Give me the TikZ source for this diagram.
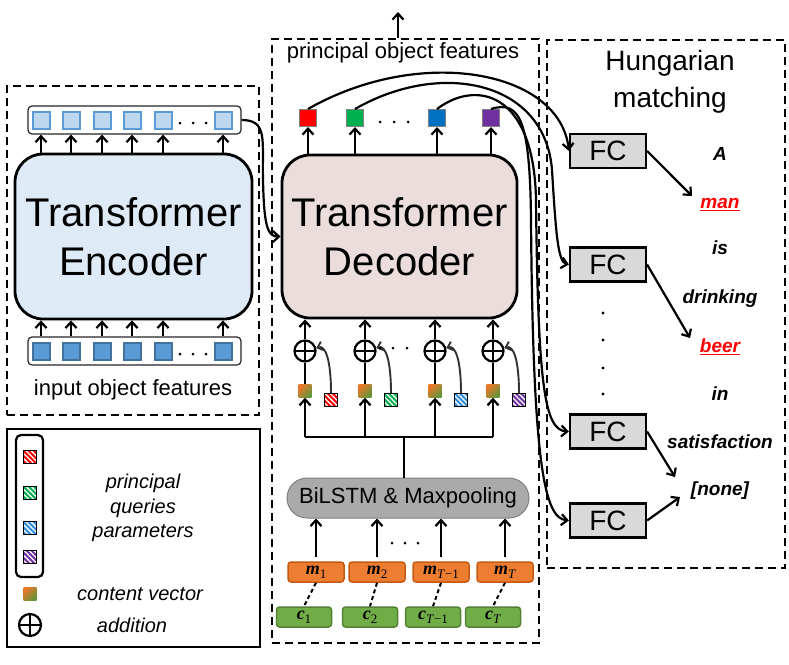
\documentclass[tikz,border=0pt]{standalone}
\usepackage{fontspec}
\setmainfont{Liberation Sans}
\newfontfamily\serifmath{Liberation Serif}
\usetikzlibrary{arrows.meta,patterns.meta,calc}

\newcommand{\mlab}[2]{{\serifmath\bfseries\itshape #1}\raisebox{-4pt}{\serifmath\fontsize{13}{14}\selectfont #2}}

\definecolor{encfill}{RGB}{222,235,247}
\definecolor{decfill}{RGB}{234,221,220}
\definecolor{lightsq}{RGB}{189,215,238}
\definecolor{lightsqb}{RGB}{91,155,213}
\definecolor{darksq}{RGB}{91,155,213}
\definecolor{darksqb}{RGB}{65,113,156}
\definecolor{fred}{RGB}{255,0,0}
\definecolor{fgreen}{RGB}{0,176,80}
\definecolor{fblue}{RGB}{0,112,192}
\definecolor{fpurple}{RGB}{112,48,160}
\definecolor{hblue}{RGB}{46,140,220}
\definecolor{mfill}{RGB}{237,125,49}
\definecolor{mdraw}{RGB}{197,90,17}
\definecolor{cfill}{RGB}{112,173,71}
\definecolor{cdraw}{RGB}{84,130,53}
\definecolor{lstmfill}{RGB}{170,170,170}
\definecolor{lstmdraw}{RGB}{128,128,128}
\definecolor{fcfill}{RGB}{217,217,217}
\definecolor{cvorange}{RGB}{232,120,40}
\definecolor{cvgreen}{RGB}{100,150,60}

\begin{document}
\begin{tikzpicture}[x=1pt,y=-1pt,
  dashbox/.style={draw, line width=2.3pt, dash pattern=on 8pt off 5pt, inner sep=0pt},
  arr/.style={-{Straight Barb[length=6pt,width=11pt]}, line width=2.2pt},
  featL/.style={draw=lightsqb, fill=lightsq, line width=2pt, minimum size=17pt, inner sep=0pt},
  featD/.style={draw=darksqb, fill=darksq, line width=2pt, minimum size=17pt, inner sep=0pt},
  bar/.style={draw=black!85, fill=white, line width=1.2pt, rounded corners=4pt, minimum width=213pt, minimum height=28pt, inner sep=0pt},
  bigbox/.style={draw, line width=2.8pt, rounded corners=28pt, align=center, font=\fontsize{40}{49}\selectfont},
  outsq/.style={draw=gray, line width=1pt, fill=#1, minimum size=17pt, inner sep=0pt},
  hatch/.style={draw=black, line width=0.9pt, minimum size=13pt, inner sep=0pt, preaction={fill=#1}, preaction={pattern={Lines[angle=-45,distance=3.6pt,line width=1.3pt]}, pattern color=white}},
  cvec/.style={minimum size=13pt, inner sep=0pt, top color=cvorange, bottom color=cvgreen, shading angle=45},
  addnode/.style={circle, draw, line width=2.2pt, minimum size=21pt, inner sep=0pt, fill=white, path picture={\draw[line width=2.2pt] (path picture bounding box.north) -- (path picture bounding box.south) (path picture bounding box.west) -- (path picture bounding box.east);}},
  mbox/.style={draw=mdraw, fill=mfill, line width=1.5pt, rounded corners=3pt, minimum width=56pt, minimum height=20pt, inner sep=0pt, font=\fontsize{18}{20}\selectfont},
  cbox/.style={draw=cdraw, fill=cfill, line width=1.5pt, rounded corners=3pt, minimum width=55pt, minimum height=20pt, inner sep=0pt, font=\fontsize{18}{20}\selectfont},
  fcbox/.style={draw, fill=fcfill, line width=2.2pt, minimum width=76pt, minimum height=34pt, inner sep=0pt, font=\fontsize{28}{32}\selectfont},
  word/.style={font=\fontsize{19}{22}\selectfont\bfseries\itshape, inner sep=0pt, text height=14pt, text depth=4pt},
  legtext/.style={font=\fontsize{20}{24.5}\selectfont\itshape, align=center},
  plaintext/.style={font=\fontsize{22}{26}\selectfont},
  curve/.style={line width=2.2pt, -{Straight Barb[length=6pt,width=11pt]}},
  mline/.style={line width=2pt, dash pattern=on 4pt off 3pt}
]
\useasboundingbox (0,0) rectangle (789,664);

% ---------- frames ----------
\node[dashbox, minimum width=252pt, minimum height=329pt] (leftbox) at (133,250.5) {};
\node[dashbox, minimum width=267pt, minimum height=604pt] (midbox) at (405.5,341) {};
\node[dashbox, minimum width=238pt, minimum height=528pt] (rightbox) at (666,304) {};
\node[draw, line width=1.6pt, minimum width=253pt, minimum height=218pt, inner sep=0pt] (legend) at (133.5,538) {};

% ---------- encoder ----------
\node[bigbox, fill=encfill, minimum width=237pt, minimum height=165pt] (enc) at (133.5,236.5) {Transformer\\Encoder};
\node[bar] (obar) at (134.5,120) {};
\node[bar] (ibar) at (134.5,351) {};
\foreach \x [count=\i] in {41,71,102,132,163,223} {
  \node[featL] (eo\i) at (\x,120) {};
  \node[featD] (ei\i) at (\x,351) {};
  \draw[arr] (enc.north -| eo\i) -- (obar.south -| eo\i);
  \draw[arr] (ibar.north -| ei\i) -- (enc.south -| ei\i);
}
\foreach \x in {180,193,206} {
  \fill (\x,123) circle (1.5);
  \fill (\x,354) circle (1.5);
}
\node[plaintext] (inlab) at (133,390) {input object features};

% ---------- decoder ----------
\node[bigbox, fill=decfill, minimum width=235pt, minimum height=163pt] (dec) at (399.5,236.5) {Transformer\\Decoder};
\node[plaintext] (poflab) at (403,53) {principal object features};
\coordinate (upout) at (398,12);
\draw[arr] (midbox.north -| upout) -- (upout);

\node[outsq=fred] (o1) at (308,118) {};
\node[outsq=fgreen] (o2) at (355,118) {};
\node[outsq=fblue] (o3) at (437,118) {};
\node[outsq=fpurple] (o4) at (491,118) {};
\foreach \i in {1,2,3,4} { \draw[arr] (dec.north -| o\i) -- (o\i.south); }
\foreach \x in {380,394,408} { \fill (\x,122) circle (1.5); }

\coordinate (bus) at (404,437);
\foreach \x/\hc [count=\i] in {305/fred, 365/fgreen, 435/hblue, 493/fpurple} {
  \node[addnode] (ad\i) at (\x,351) {};
  \node[cvec] (cv\i) at (\x,391) {};
  \node[hatch=\hc] (hq\i) at (\x+26,400) {};
  \draw[arr] (ad\i.north) -- (dec.south -| ad\i);
  \draw[line width=2.2pt] (cv\i.north) -- (ad\i.south);
  \draw[arr] (cv\i.south |- bus) -- (cv\i.south);
  \draw[-{Straight Barb[length=5pt,width=9pt]}, line width=1.9pt, black!80] (hq\i.north) .. controls +(0,-34) and +(9,-3) .. (ad\i.15);
}
\foreach \x in {380,393,407} { \fill (\x,348) circle (1.5); }
\draw[line width=2.2pt] (cv1.south |- bus) -- (cv4.south |- bus);

\node[draw=lstmdraw, fill=lstmfill, line width=1pt, rounded corners=20pt, minimum width=242pt, minimum height=40pt, inner sep=0pt, font=\fontsize{22}{26}\selectfont] (lstm) at (408,498) {BiLSTM \& Maxpooling};
\draw[line width=2.2pt] (bus) -- (lstm.north -| bus);

\foreach \mx/\cx/\sub [count=\i] in {316/304/1, 377/370/2, 441/433/{\textit{T}−1}, 505/493/{\textit{T}}} {
  \node[mbox] (m\i) at (\mx,572) {\mlab{m}{\sub}};
  \node[cbox] (c\i) at (\cx,617) {\mlab{c}{\sub}};
  \draw[mline] (m\i.south) -- (c\i.north);
  \draw[arr] ([yshift=4pt]m\i.north) -- (lstm.south -| m\i.north);
}
\foreach \x in {392,405,418} { \fill (\x,543) circle (1.5); }

% encoder -> decoder
\draw[arr] (obar.east) .. controls (268,120) and (262,140) .. (263,180) .. controls (264,228) and (268,236.5) .. (dec.west);

% ---------- right part ----------
\node[font=\fontsize{28}{37}\selectfont, align=center] (hung) at (670,81.5) {Hungarian\\matching};
\node[fcbox] (fc1) at (608,151) {FC};
\node[fcbox] (fc2) at (608,264.5) {FC};
\node[fcbox] (fc3) at (608,431.5) {FC};
\node[fcbox] (fc4) at (608,520.5) {FC};

\node[word] (w1) at (720,155) {A};
\node[word, text=red] (w2) at (720,203) {man};
\node[word] (w3) at (720,249) {is};
\node[word] (w4) at (720,298) {drinking};
\node[word, text=red] (w5) at (720,347) {beer};
\node[word] (w6) at (720,395) {in};
\node[word] (w7) at (720,443) {satisfaction};
\node[word] (w8) at (720,490) {[none]};
\draw[red, line width=1.3pt] ([yshift=-2.5pt]w2.base west) -- ([yshift=-2.5pt]w2.base east);
\draw[red, line width=1.3pt] ([yshift=-2.5pt]w5.base west) -- ([yshift=-2.5pt]w5.base east);

\coordinate (t1) at (692,196);
\coordinate (t2) at (690,338);
\coordinate (t3) at (675,477);
\coordinate (t4) at (680,497);
\draw[arr] (fc1.east) -- (t1);
\draw[arr] (fc2.east) -- (t2);
\draw[arr] (fc3.east) -- (t3);
\draw[arr] (fc4.east) -- (t4);
\foreach \y in {313,340,368,394} { \fill (603,\y) circle (1.6); }

% feature -> FC curves
\draw[curve] (o1.north) .. controls (420,45) and (560,70) .. (fc1.west);
\draw[curve] (o2.north) .. controls (440,60) and (545,80) .. (552,170) .. controls (556,235) and (558,262) .. (fc2.west);
\draw[curve] (o3.north) .. controls (475,80) and (534,90) .. (536,200) .. controls (538,390) and (545,430) .. (fc3.west);
\draw[curve] (o4.north) .. controls (520,100) and (530,120) .. (531,220) .. controls (533,470) and (545,518) .. (fc4.west);

% ---------- legend ----------
\node[draw, line width=2.2pt, rounded corners=5pt, minimum width=27pt, minimum height=142pt, inner sep=0pt] (legq) at (29.5,506) {};
\node[hatch=fred] (lq1) at (30,457) {};
\node[hatch=fgreen] (lq2) at (30,493) {};
\node[hatch=hblue] (lq3) at (30,528) {};
\node[hatch=fpurple] (lq4) at (30,557) {};
\node[legtext] (ltext) at (143,508) {principal\\queries\\parameters};
\node[cvec] (lcv) at (30,594) {};
\node[legtext] (lcvt) at (140,594) {content vector};
\node[addnode, minimum size=22pt] (ladd) at (30,625) {};
\node[legtext] (laddt) at (132,625) {addition};
\end{tikzpicture}
\end{document}
